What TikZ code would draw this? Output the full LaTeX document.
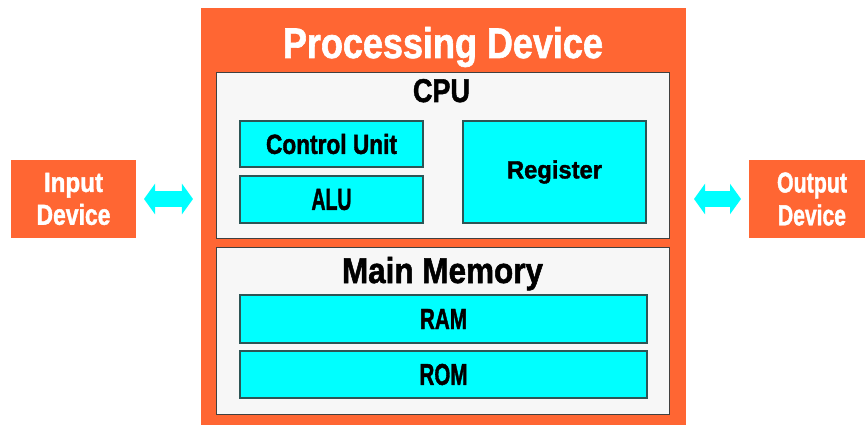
\documentclass[tikz,border=0pt]{standalone}
\usepackage{fontspec}
\setmainfont{Liberation Sans}
\newfontfamily\heavyfont{Liberation Sans}[BoldFeatures={FakeBold=1.6}]
\usepackage{graphicx}
\usetikzlibrary{arrows.meta}

\definecolor{devorange}{RGB}{255,102,51}
\definecolor{panelgray}{RGB}{247,247,247}
\definecolor{unitcyan}{RGB}{0,255,255}
\definecolor{edgegray}{RGB}{64,64,64}
\definecolor{edgeteal}{RGB}{45,85,85}

% condensed heavy labels
\newcommand{\fat}[3]{\resizebox{#1}{#2}{\heavyfont\bfseries #3}}
\newcommand{\lit}[3]{\resizebox{#1}{#2}{\heavyfont\bfseries\color{white}#3}}

\begin{document}
\begin{tikzpicture}[x=0.03cm,y=-0.03cm,
    every node/.style={inner sep=0pt,outer sep=0pt},
    device/.style={fill=devorange},
    panel/.style={draw=edgegray,line width=0.8pt,fill=panelgray},
    unit/.style={draw=edgeteal,line width=0.9pt,fill=unitcyan},
    link/.style={unitcyan,line width=0.45cm,
        {Triangle[width=0.9cm,length=0.33cm]}-{Triangle[width=0.9cm,length=0.33cm]},
        shorten <=0.24cm,shorten >=0.24cm}]
    \useasboundingbox (0,0) rectangle (865,425);

    \node[device,minimum width=14.55cm,minimum height=12.51cm] (proc) at (443.5,216.5) {};
    \node[device,minimum width=3.75cm,minimum height=2.34cm,align=center,
        font=\fontsize{10}{28}\selectfont] (input) at (73.5,199)
        {\lit{1.77cm}{0.57cm}{Input}\\\lit{2.22cm}{0.63cm}{Device}};
    \node[device,minimum width=3.78cm,minimum height=2.34cm,align=center,
        font=\fontsize{10}{28}\selectfont] (output) at (812,199)
        {\lit{2.1cm}{0.6cm}{Output}\\\lit{2.04cm}{0.63cm}{Device}};

    \node[panel,minimum width=13.6cm,minimum height=4.98cm] (cpu) at (443.25,155.5) {};
    \node[panel,minimum width=13.6cm,minimum height=5.01cm] (memory) at (443.25,330.5) {};

    \node[unit,minimum width=5.49cm,minimum height=1.38cm] (control) at (331.5,144) {\fat{3.93cm}{0.6cm}{Control Unit}};
    \node[unit,minimum width=5.49cm,minimum height=1.41cm] (alu) at (331.5,199.5) {\fat{1.2cm}{0.63cm}{ALU}};
    \node[unit,minimum width=5.49cm,minimum height=3.06cm] (register) at (554.5,172) {\fat{2.85cm}{0.54cm}{Register}};
    \node[unit,minimum width=12.21cm,minimum height=1.44cm] (ram) at (443.5,319) {\fat{1.41cm}{0.6cm}{RAM}};
    \node[unit,minimum width=12.21cm,minimum height=1.41cm] (rom) at (443.5,374.5) {\fat{1.44cm}{0.63cm}{ROM}};

    \node[anchor=base] (proctitle) at (443,58) {\lit{9.6cm}{0.93cm}{Processing Device}};
    \node[anchor=base] (cputitle) at (441.5,102) {\fat{1.71cm}{0.69cm}{CPU}};
    \node[anchor=base] (memtitle) at (442.5,283) {\fat{6.03cm}{0.78cm}{Main Memory}};

    \draw[link] (input.east) -- (input.east -| proc.west);
    \draw[link] (proc.east |- output.west) -- (output.west);
\end{tikzpicture}
\end{document}
